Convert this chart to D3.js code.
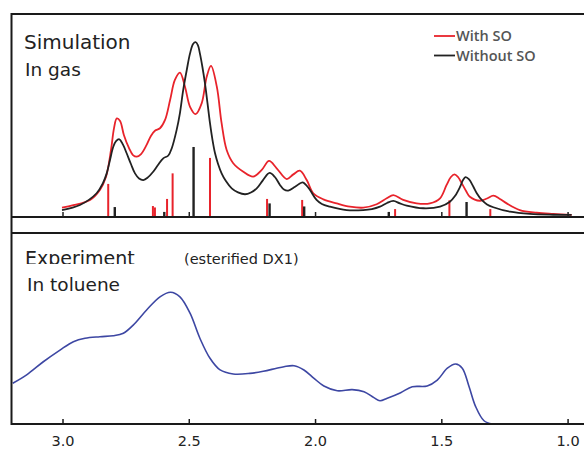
<!DOCTYPE html>
<html>
<head>
<meta charset="utf-8">
<script src="https://cdn.jsdelivr.net/npm/d3@7"></script>
<style>
  html, body { margin: 0; padding: 0; background: #fff; }
  svg { display: block; }
</style>
</head>
<body>
<div id="chart"></div>
<script>
// energy axis (eV), reversed
const xTicks = [3.0, 2.5, 2.0, 1.5, 1.0];
const seriesNames = ["With SO", "Without SO"];

// simulated spectrum with spin-orbit  [eV, intensity]
const withSO = [
  [3.002, 4.6], [2.957, 5.8], [2.891, 8.4], [2.852, 13.3], [2.828, 19.7], [2.808, 33.0],
  [2.796, 43.8], [2.785, 48.6], [2.772, 47.3], [2.757, 40.4], [2.737, 34.0], [2.721, 30.5],
  [2.706, 29.7], [2.689, 31.0], [2.667, 35.5], [2.650, 39.9], [2.634, 42.5], [2.614, 43.7],
  [2.594, 47.8], [2.574, 57.6], [2.555, 67.5], [2.535, 71.1], [2.515, 64.2], [2.495, 54.3],
  [2.473, 50.7], [2.449, 56.0], [2.429, 69.1], [2.412, 74.4], [2.389, 64.2], [2.370, 46.2],
  [2.350, 33.0], [2.324, 26.5], [2.284, 22.3], [2.245, 19.9], [2.211, 23.2], [2.182, 27.6],
  [2.152, 24.0], [2.112, 18.7], [2.086, 21.0], [2.060, 22.8], [2.033, 18.2], [2.007, 11.7],
  [1.967, 8.7], [1.914, 6.7], [1.862, 5.1], [1.809, 4.6], [1.756, 6.3], [1.716, 9.2],
  [1.690, 10.8], [1.651, 8.4], [1.598, 6.7], [1.545, 6.7], [1.505, 9.2], [1.479, 15.8],
  [1.462, 19.7], [1.448, 21.0], [1.434, 19.7], [1.419, 16.6], [1.402, 12.8], [1.387, 10.0],
  [1.347, 8.0], [1.319, 9.1], [1.294, 10.5], [1.268, 8.9], [1.241, 6.7], [1.189, 3.4],
  [1.122, 2.1], [1.057, 1.5], [0.984, 1.0]
];

// simulated spectrum without spin-orbit
const withoutSO = [
  [3.002, 3.4], [2.931, 5.9], [2.865, 11.7], [2.840, 16.7], [2.825, 21.5], [2.812, 28.1],
  [2.799, 34.6], [2.788, 37.4], [2.775, 38.3], [2.760, 35.5], [2.746, 31.4], [2.729, 26.1],
  [2.713, 21.5], [2.697, 19.0], [2.680, 18.2], [2.662, 19.5], [2.641, 22.3], [2.622, 25.6],
  [2.601, 28.9], [2.581, 30.3], [2.567, 34.0], [2.548, 42.9], [2.535, 51.2], [2.522, 62.6],
  [2.508, 72.4], [2.495, 80.6], [2.483, 85.2], [2.473, 86.1], [2.464, 84.7], [2.456, 80.6],
  [2.446, 73.9], [2.436, 65.9], [2.426, 56.2], [2.416, 46.2], [2.406, 37.9], [2.396, 31.4],
  [2.384, 26.1], [2.370, 21.5], [2.353, 17.7], [2.330, 14.1], [2.305, 12.1], [2.277, 11.2],
  [2.254, 12.1], [2.231, 14.1], [2.206, 18.2], [2.180, 21.7], [2.159, 19.7], [2.139, 15.8],
  [2.123, 13.5], [2.106, 13.0], [2.079, 14.9], [2.049, 17.1], [2.036, 15.8], [2.020, 13.3],
  [1.994, 8.4], [1.973, 6.4], [1.941, 5.1], [1.875, 3.4], [1.809, 3.4], [1.775, 3.9],
  [1.743, 5.1], [1.715, 6.9], [1.690, 7.9], [1.664, 6.7], [1.637, 5.6], [1.571, 4.3],
  [1.505, 5.1], [1.466, 7.5], [1.446, 10.3], [1.426, 14.8], [1.414, 18.2], [1.404, 19.6],
  [1.390, 18.5], [1.373, 14.9], [1.359, 11.6], [1.340, 8.4], [1.319, 6.2], [1.294, 4.8],
  [1.228, 2.6], [1.149, 1.5], [1.057, 1.1], [0.984, 1.0]
];

// transition sticks [eV, strength]
const sticksSO = [
  [2.819, 16.3], [2.642, 5.4], [2.634, 4.7], [2.586, 8.9], [2.564, 21.5], [2.416, 29.1],
  [2.190, 8.9], [2.051, 8.4], [1.683, 3.9], [1.468, 8.2], [1.306, 3.9]
];
const sticksNoSO = [
  [2.793, 4.9], [2.597, 2.5], [2.481, 34.5], [2.180, 6.7], [2.043, 5.2], [1.708, 2.5],
  [1.400, 7.4]
];

// experiment, esterified DX1 in toluene
const experiment = [
  [3.197, 21.3], [3.142, 25.7], [3.076, 32.6], [3.010, 38.7], [2.957, 43.1], [2.911, 44.9],
  [2.852, 45.7], [2.799, 46.2], [2.759, 47.5], [2.720, 51.8], [2.667, 59.7], [2.614, 66.6],
  [2.572, 69.0], [2.535, 66.6], [2.495, 58.0], [2.456, 44.9], [2.416, 34.4], [2.376, 28.3],
  [2.324, 26.2], [2.258, 26.5], [2.205, 27.6], [2.152, 29.2], [2.123, 30.0], [2.083, 30.5],
  [2.044, 28.3], [2.004, 23.9], [1.965, 19.9], [1.912, 17.4], [1.853, 18.0], [1.806, 16.9],
  [1.767, 13.8], [1.743, 12.2], [1.714, 13.5], [1.661, 16.4], [1.615, 19.5], [1.556, 19.9],
  [1.516, 23.0], [1.476, 29.2], [1.443, 31.4], [1.417, 29.2], [1.390, 19.5], [1.364, 9.1],
  [1.331, 1.7], [1.298, 0]
];

const W = 584, H = 450;
const red = "#e8232b", black = "#222", blue = "#3d47a3";
const font = "'DejaVu Sans', sans-serif";

const svg = d3.select("#chart").append("svg")
  .attr("width", W)
  .attr("height", H);

const x = d3.scaleLinear().domain([3.2, 0.935]).range([12, 584]);
const yTop = d3.scaleLinear().domain([0, 100]).range([217, 14]);
const yBot = d3.scaleLinear().domain([0, 100]).range([424, 233]);

const line = (ys) => d3.line()
  .x(d => x(d[0]))
  .y(d => ys(d[1]))
  .curve(d3.curveCatmullRom.alpha(0.5));

// sticks
svg.append("g").selectAll("line")
  .data(sticksSO)
  .enter().append("line")
  .attr("x1", d => x(d[0])).attr("x2", d => x(d[0]))
  .attr("y1", yTop(0)).attr("y2", d => yTop(d[1]))
  .style("stroke", red).style("stroke-width", 2);

svg.append("g").selectAll("line")
  .data(sticksNoSO)
  .enter().append("line")
  .attr("x1", d => x(d[0])).attr("x2", d => x(d[0]))
  .attr("y1", yTop(0)).attr("y2", d => yTop(d[1]))
  .style("stroke", black).style("stroke-width", 2.4);

// simulated curves
svg.append("path")
  .datum(withSO)
  .attr("d", line(yTop))
  .style("fill", "none").style("stroke", red).style("stroke-width", 1.8);

svg.append("path")
  .datum(withoutSO)
  .attr("d", line(yTop))
  .style("fill", "none").style("stroke", black).style("stroke-width", 1.8);

// experimental curve
svg.append("path")
  .datum(experiment)
  .attr("d", line(yBot))
  .style("fill", "none").style("stroke", blue).style("stroke-width", 1.6);

// frame lines
const frame = svg.append("g").style("stroke", "#1a1a1a").style("stroke-width", 2);
frame.append("line").attr("x1", 11).attr("x2", W).attr("y1", 14).attr("y2", 14);
frame.append("line").attr("x1", 11).attr("x2", W).attr("y1", yTop(0)).attr("y2", yTop(0));
frame.append("line").attr("x1", 11).attr("x2", W).attr("y1", 233).attr("y2", 233);
frame.append("line").attr("x1", 11.5).attr("x2", 11.5).attr("y1", 13).attr("y2", 425);

// top panel ticks (inside)
svg.append("g")
  .attr("transform", `translate(0,${yTop(0)})`)
  .call(d3.axisBottom(x).tickValues(xTicks).tickSize(-5).tickFormat(""))
  .call(g => g.select(".domain").remove())
  .call(g => g.selectAll(".tick line").style("stroke", black).style("stroke-width", 1.5));

// bottom axis
const ax = svg.append("g")
  .attr("transform", `translate(0,${yBot(0)})`)
  .call(d3.axisBottom(x).tickValues(xTicks).tickSize(-5).tickPadding(12)
    .tickFormat(d3.format(".1f")));
ax.select(".domain")
  .attr("d", `M11,0H${W}`)
  .style("stroke", "#1a1a1a").style("stroke-width", 2);
ax.selectAll(".tick line").style("stroke", "#1a1a1a").style("stroke-width", 1.5);
ax.selectAll(".tick text")
  .style("font-family", font).style("font-size", "14.5px").style("fill", "#222");

// legend
const legend = svg.append("g").selectAll("g")
  .data(seriesNames)
  .enter().append("g")
  .attr("transform", (d, i) => `translate(434,${36 + i * 19.5})`);
legend.append("line")
  .attr("x1", 0).attr("x2", 21)
  .style("stroke", (d, i) => i === 0 ? red : black)
  .style("stroke-width", 1.8);
legend.append("text")
  .attr("x", 22).attr("y", 5)
  .style("font-family", "'Open Sans', sans-serif")
  .style("font-size", "14.5px").style("font-weight", 600)
  .style("fill", "#555")
  .text(d => d);

// panel labels
const label = (txt, lx, ly, size) => svg.append("text")
  .attr("x", lx).attr("y", ly)
  .style("font-family", font).style("font-size", size + "px")
  .style("fill", "#222")
  .text(txt);

label("Simulation", 24, 48.5, 20);
label("In gas", 25, 76, 18.5);
label("In toluene", 27, 291, 18.5);
label("(esterified DX1)", 184, 264, 14.5);

// "Experiment" is cut at its baseline in the original
svg.append("clipPath").attr("id", "expClip")
  .append("rect").attr("x", 0).attr("y", 234).attr("width", 200).attr("height", 30);
label("Experiment", 25, 264.5, 19).attr("clip-path", "url(#expClip)");
</script>
</body>
</html>
